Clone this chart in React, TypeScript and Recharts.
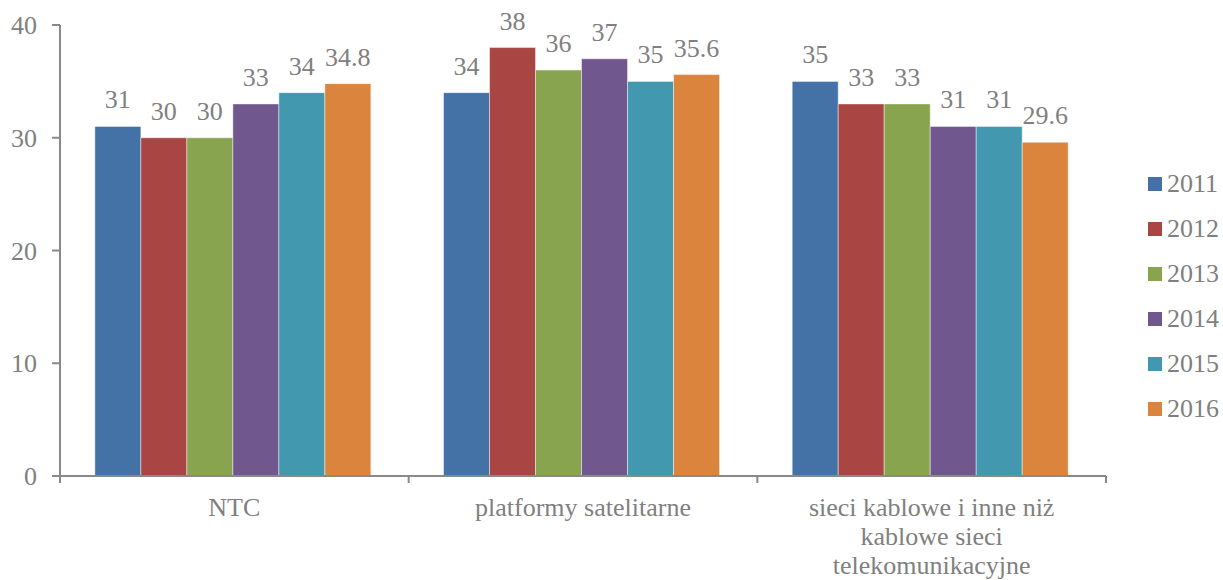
import { BarChart, Bar, XAxis, YAxis, LabelList } from "recharts";

const categories = [
  "NTC",
  "platformy satelitarne",
  "sieci kablowe i inne niż kablowe sieci telekomunikacyjne",
];
const years = ["2011", "2012", "2013", "2014", "2015", "2016"];
const v2011 = [31, 34, 35];
const v2012 = [30, 38, 33];
const v2013 = [30, 36, 33];
const v2014 = [33, 37, 31];
const v2015 = [34, 35, 31];
const v2016 = [34.8, 35.6, 29.6];
const yTicks = [0, 10, 20, 30, 40];

const colors = ["#4471A6", "#A94543", "#89A44E", "#70588F", "#4198AF", "#DB843D"];
const series = [v2011, v2012, v2013, v2014, v2015, v2016];

const data = categories.map((name, i) => {
  const row: Record<string, string | number> = { name };
  years.forEach((y, k) => (row[y] = series[k][i]));
  return row;
});

const AXIS = "#898989";
const TEXT = "#808080";
const FONT = "'Liberation Serif', 'Times New Roman', serif";
const FS = 26;

// word wrap measured with a canvas, max width in px
const wrap = (text: string, maxW: number) => {
  const ctx = document.createElement("canvas").getContext("2d")!;
  ctx.font = `${FS}px ${FONT}`;
  const lines: string[] = [];
  let cur = "";
  text.split(" ").forEach((w) => {
    const next = cur ? `${cur} ${w}` : w;
    if (cur && ctx.measureText(next).width > maxW) {
      lines.push(cur);
      cur = w;
    } else cur = next;
  });
  if (cur) lines.push(cur);
  return lines;
};

const CategoryTick = (props: any) => {
  const { x, y, payload, index, visibleTicksCount } = props;
  const band = 1046 / categories.length;
  const top = y - 8;
  const lines = wrap(String(payload.value), 290);
  return (
    <g>
      <line x1={x - band / 2} x2={x - band / 2} y1={top} y2={top + 7} stroke={AXIS} strokeWidth={2} />
      {index === visibleTicksCount - 1 && (
        <line x1={x + band / 2} x2={x + band / 2} y1={top} y2={top + 7} stroke={AXIS} strokeWidth={2} />
      )}
      <text x={x} y={top + 40} textAnchor="middle" fill={TEXT} fontSize={FS} fontFamily={FONT}>
        {lines.map((l, i) => (
          <tspan key={i} x={x} dy={i === 0 ? 0 : 29}>
            {l}
          </tspan>
        ))}
      </text>
    </g>
  );
};

export default function App() {
  return (
    <div style={{ position: "absolute", left: 0, top: 0, width: 1223, height: 580, background: "#fff" }}>
      <BarChart
        width={1223}
        height={580}
        data={data}
        margin={{ top: 25, right: 117, left: 0, bottom: 0 }}
        barCategoryGap="10%"
        barGap={0}
      >
        <XAxis
          dataKey="name"
          axisLine={{ stroke: AXIS, strokeWidth: 2 }}
          tickLine={false}
          tick={<CategoryTick />}
          height={104}
          interval={0}
        />
        <YAxis
          domain={[0, 40]}
          ticks={yTicks}
          width={60}
          axisLine={{ stroke: AXIS, strokeWidth: 2 }}
          tickLine={{ stroke: AXIS, strokeWidth: 2 }}
          tickSize={8}
          tickMargin={15}
          tick={{ fill: TEXT, fontSize: FS, fontFamily: FONT }}
        />
        {years.map((y, k) => (
          <Bar
            key={y}
            dataKey={y}
            fill={colors[k]}
            stroke="#ffffff"
            strokeOpacity={0.45}
            strokeWidth={1}
            isAnimationActive={false}
          >
            <LabelList
              dataKey={y}
              position="top"
              offset={18}
              fill={TEXT}
              fontSize={FS}
              fontFamily={FONT}
            />
          </Bar>
        ))}
      </BarChart>
      <div
        style={{
          position: "absolute",
          left: 1148,
          top: 161,
          fontFamily: FONT,
          fontSize: FS,
          color: TEXT,
          lineHeight: 1,
        }}
      >
        {years.map((y, k) => (
          <div key={y} style={{ display: "flex", alignItems: "center", height: 45 }}>
            <span style={{ width: 14, height: 14, background: colors[k], marginRight: 5, display: "inline-block" }} />
            <span>{y}</span>
          </div>
        ))}
      </div>
    </div>
  );
}
